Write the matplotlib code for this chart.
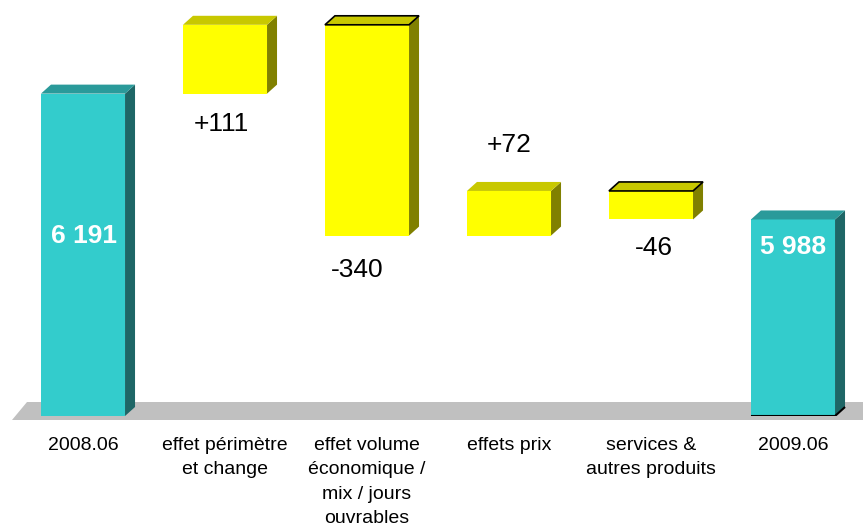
import matplotlib
matplotlib.use("Agg")
import matplotlib.pyplot as plt
from matplotlib.patches import Polygon, Rectangle

# ---- data ----
categories = ["2008.06", "effet périmètre\net change",
              "effet volume\néconomique /\nmix / jours\nouvrables",
              "effets prix", "services &\nautres produits", "2009.06"]
start_value = 6191
deltas = [111, -340, 72, -46]
end_value = 5988
value_labels = ["6 191", "+111", "-340", "+72", "-46", "5 988"]

# ---- style ----
axis_min, axis_max = 5671, 6342
cyan = ("#33CCCC", "#2A9A9A", "#1E6666")     # front, top, side
yellow = ("#FFFF00", "#C8C800", "#808000")
bar_width = 0.592
depth_px = (10, 9)

plt.rcParams["font.family"] = ["Liberation Sans", "DejaVu Sans"]
fig = plt.figure(figsize=(8.63, 5.26), dpi=100)
ax = fig.add_axes([0, 110 / 526, 1, 416 / 526])
ax.set_xlim(-0.5845, 5.493)
ax.set_ylim(axis_min, axis_max)
for s in ax.spines.values():
    s.set_visible(False)
ax.set_yticks([])

# pixel -> data conversion
p0 = ax.transData.transform((0, axis_min))
p1 = ax.transData.transform((1, axis_min + 1))
ddx = depth_px[0] / (p1[0] - p0[0])
ddy = depth_px[1] / (p1[1] - p0[1])
px_y = 1 / (p1[1] - p0[1])
px_x = 1 / (p1[0] - p0[0])

# waterfall segments
bottoms, tops, colors = [], [], []
bottoms.append(axis_min); tops.append(start_value); colors.append(cyan)
level = start_value
for d in deltas:
    new = level + d
    bottoms.append(min(level, new)); tops.append(max(level, new)); colors.append(yellow)
    level = new
bottoms.append(axis_min); tops.append(end_value); colors.append(cyan)

# floor
fl = Polygon([(-0.5845 + 12 * px_x, axis_min - 4 * px_y),
              (5.6, axis_min - 4 * px_y),
              (5.6, axis_min + 14 * px_y),
              (-0.5845 + 27 * px_x, axis_min + 14 * px_y)],
             closed=True, facecolor="#C0C0C0", edgecolor="none",
             clip_on=False, zorder=1)
ax.add_patch(fl)

outlined = {2, 4}
for i, (b, t, c) in enumerate(zip(bottoms, tops, colors)):
    x0 = i - bar_width / 2
    x1 = i + bar_width / 2
    ax.add_patch(Rectangle((x0, b), bar_width, t - b, facecolor=c[0],
                           edgecolor="none", zorder=3))
    ax.add_patch(Polygon([(x1, b), (x1 + ddx, b + ddy), (x1 + ddx, t + ddy), (x1, t)],
                         closed=True, facecolor=c[2], edgecolor="none", zorder=3))
    ec = "black" if i in outlined else "none"
    ax.add_patch(Polygon([(x0, t), (x0 + ddx, t + ddy), (x1 + ddx, t + ddy), (x1, t)],
                         closed=True, facecolor=c[1], edgecolor=ec, lw=1.2,
                         zorder=4, clip_on=False))
    if i == len(bottoms) - 1:
        ax.plot([x0, x1, x1 + ddx], [b, b, b + ddy], color="black", lw=1.5,
                zorder=5, solid_capstyle="butt")

# value labels: (anchor, x offset px, y offset px)
anchors = [(tops[0], 1, -142), (bottoms[1], -4, -30), (bottoms[2], -10, -34),
           (tops[3], 0, 46), (bottoms[4], 3, -29), (tops[5], 0, -28)]
for i, (lab, (ay, ox, oy)) in enumerate(zip(value_labels, anchors)):
    inside = i in (0, len(value_labels) - 1)
    ax.annotate(lab, xy=(i, ay), xytext=(ox, oy), textcoords="offset pixels",
                ha="center", va="center", fontsize=19,
                fontweight="bold" if inside else "normal",
                color="white" if inside else "black", zorder=6)

ax.set_xticks(range(len(categories)))
ax.set_xticklabels(categories, fontsize=14, linespacing=1.57)
ax.tick_params(axis="x", length=0, pad=15)

fig.savefig("out.png", dpi=100, facecolor="white")
